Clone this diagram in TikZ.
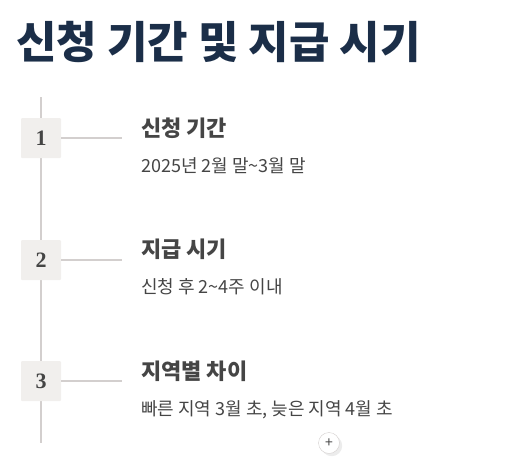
\documentclass[tikz,border=0pt]{standalone}
\usepackage{fontspec}
\setmainfont{Noto Sans CJK KR}
\newfontfamily\numfont{Liberation Serif}
\usepackage{tikz}
\usetikzlibrary{shadows, positioning}
\definecolor{titleblue}{HTML}{1B2E48}
\definecolor{linegray}{HTML}{D3CFCE}
\definecolor{boxfill}{HTML}{F1EFED}
\definecolor{textgray}{HTML}{454545}
\tikzstyle{numbox} = [rectangle, rounded corners=1pt, fill=boxfill, minimum width=40pt, minimum height=40pt, font=\numfont\bfseries\fontsize{22}{22}\selectfont, text=textgray]
\tikzstyle{heading} = [anchor=west, inner sep=0pt, font=\bfseries\fontsize{22}{26}\selectfont, text=textgray]
\tikzstyle{detail} = [anchor=west, inner sep=0pt, font=\fontsize{18}{21}\selectfont, text=textgray]
\tikzstyle{link} = [linegray, line width=1.5pt]
\begin{document}
\begin{tikzpicture}[x=1pt, y=-1pt]
	\useasboundingbox (0,0) rectangle (527,463);
	\node (Title) [anchor=west, inner sep=0pt, font=\bfseries\fontsize{44}{52}\selectfont, text=titleblue] at (16,42) {신청 기간 및 지급 시기};
	\coordinate (LineTop) at (41,97);
	\coordinate (LineBottom) at (41,443);
	\draw [link] (LineTop) -- (LineBottom);
	\node (Step1) [numbox] at (41,138) {1};
	\node (Step2) [numbox] at (41,260) {2};
	\node (Step3) [numbox] at (41,381) {3};
	\coordinate (Stub1) at (122,138);
	\coordinate (Stub2) at (122,260);
	\coordinate (Stub3) at (122,381);
	\draw [link] (Step1) -- (Stub1);
	\draw [link] (Step2) -- (Stub2);
	\draw [link] (Step3) -- (Stub3);
	\node (Head1) [heading] at (141,128) {신청 기간};
	\node (Detail1) [detail] at (141,166) {2025년 2월 말\textasciitilde 3월 말};
	\node (Head2) [heading] at (141,249) {지급 시기};
	\node (Detail2) [detail] at (141,287) {신청 후 2\textasciitilde 4주 이내};
	\node (Head3) [heading] at (141,371) {지역별 차이};
	\node (Detail3) [detail] at (141,410) {빠른 지역 3월 초, 늦은 지역 4월 초};
	\node (AddButton) [circle, draw=linegray, fill=white, drop shadow={opacity=0.15}, minimum size=21pt, inner sep=0pt, font=\fontsize{14}{14}\selectfont, text=textgray] at (329,443) {+};
\end{tikzpicture}
\end{document}
